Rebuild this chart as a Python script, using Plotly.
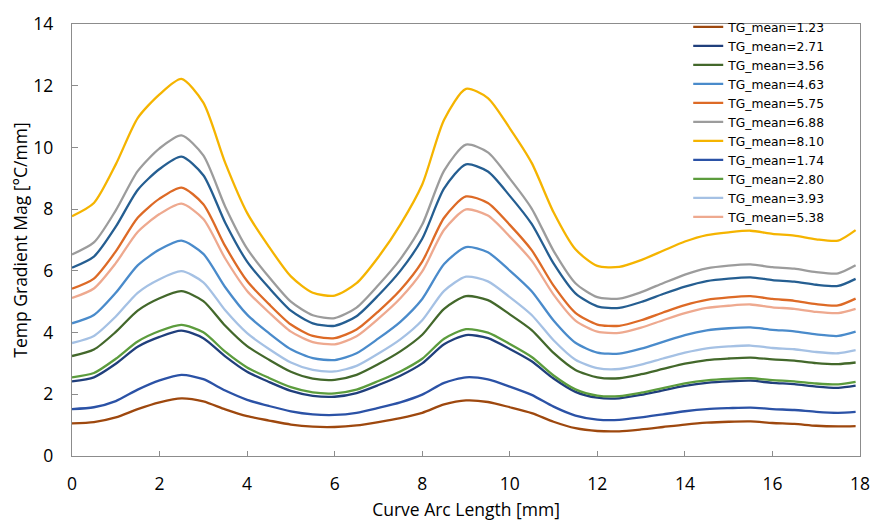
import plotly.graph_objects as go

# Arc-length positions along the curve [mm]
arc_mm = [0, 0.5, 1, 1.5, 2, 2.5, 3, 3.5, 4, 4.5, 5, 5.5, 6, 6.5, 7, 7.5, 8, 8.5,
          9, 9.5, 10, 10.5, 11, 11.5, 12, 12.5, 13, 13.5, 14, 14.5, 15, 15.5,
          16, 16.5, 17, 17.5, 17.9]

# Temperature gradient magnitude [°C/mm] for each case
tg_1_23 = [1.06, 1.10, 1.25, 1.52, 1.74, 1.87, 1.77, 1.51, 1.29, 1.15, 1.02, 0.95,
           0.94, 0.99, 1.10, 1.23, 1.40, 1.67, 1.80, 1.75, 1.58, 1.39, 1.11, 0.90,
           0.81, 0.80, 0.86, 0.94, 1.02, 1.08, 1.11, 1.12, 1.07, 1.04, 0.98, 0.96, 0.97]
tg_2_71 = [2.42, 2.55, 2.99, 3.54, 3.86, 4.06, 3.82, 3.23, 2.73, 2.40, 2.11, 1.95,
           1.92, 2.04, 2.30, 2.60, 3.00, 3.62, 3.92, 3.82, 3.47, 3.07, 2.51, 2.08,
           1.89, 1.87, 1.98, 2.13, 2.27, 2.37, 2.42, 2.44, 2.37, 2.33, 2.25, 2.21, 2.28]
tg_3_56 = [3.24, 3.45, 4.02, 4.71, 5.11, 5.34, 5.02, 4.22, 3.56, 3.12, 2.73, 2.51,
           2.47, 2.63, 2.98, 3.39, 3.93, 4.77, 5.18, 5.05, 4.59, 4.08, 3.34, 2.79,
           2.55, 2.52, 2.65, 2.82, 2.99, 3.11, 3.16, 3.19, 3.13, 3.09, 3.01, 2.98, 3.03]
tg_4_63 = [4.30, 4.57, 5.29, 6.18, 6.69, 6.98, 6.55, 5.47, 4.58, 3.98, 3.46, 3.17,
           3.11, 3.33, 3.81, 4.35, 5.09, 6.22, 6.77, 6.60, 6.01, 5.34, 4.39, 3.67,
           3.35, 3.32, 3.48, 3.70, 3.92, 4.07, 4.14, 4.17, 4.09, 4.04, 3.94, 3.89, 4.03]
tg_5_75 = [5.42, 5.75, 6.63, 7.72, 8.34, 8.70, 8.16, 6.80, 5.67, 4.92, 4.26, 3.89,
           3.82, 4.10, 4.69, 5.38, 6.30, 7.72, 8.41, 8.20, 7.49, 6.67, 5.52, 4.64,
           4.26, 4.22, 4.40, 4.65, 4.89, 5.06, 5.14, 5.18, 5.09, 5.03, 4.92, 4.88, 5.10]
tg_6_88 = [6.53, 6.92, 7.96, 9.23, 9.97, 10.39, 9.74, 8.08, 6.72, 5.80, 5.00, 4.56,
           4.47, 4.81, 5.54, 6.38, 7.50, 9.25, 10.09, 9.84, 8.99, 8.02, 6.65, 5.60,
           5.15, 5.10, 5.31, 5.60, 5.88, 6.08, 6.17, 6.21, 6.12, 6.07, 5.96, 5.92, 6.18]
tg_8_10 = [7.77, 8.20, 9.45, 10.95, 11.72, 12.22, 11.45, 9.50, 7.88, 6.78, 5.82, 5.29,
           5.20, 5.60, 6.45, 7.50, 8.80, 10.90, 11.90, 11.60, 10.62, 9.50, 7.90, 6.70,
           6.16, 6.13, 6.35, 6.65, 6.95, 7.16, 7.25, 7.30, 7.20, 7.14, 7.02, 6.98, 7.32]
tg_1_74 = [1.52, 1.58, 1.78, 2.15, 2.45, 2.63, 2.49, 2.12, 1.82, 1.62, 1.45, 1.35,
           1.33, 1.40, 1.56, 1.74, 1.99, 2.37, 2.55, 2.48, 2.25, 1.98, 1.60, 1.31,
           1.18, 1.17, 1.25, 1.35, 1.45, 1.52, 1.55, 1.57, 1.52, 1.49, 1.43, 1.40, 1.43]
tg_2_80 = [2.55, 2.69, 3.15, 3.71, 4.05, 4.25, 4.01, 3.38, 2.87, 2.53, 2.23, 2.06,
           2.03, 2.15, 2.43, 2.74, 3.15, 3.80, 4.11, 4.00, 3.63, 3.21, 2.61, 2.16,
           1.96, 1.94, 2.05, 2.20, 2.35, 2.45, 2.50, 2.52, 2.46, 2.42, 2.35, 2.32, 2.40]
tg_3_93 = [3.66, 3.89, 4.52, 5.29, 5.73, 5.99, 5.63, 4.72, 3.98, 3.47, 3.03, 2.79,
           2.74, 2.92, 3.32, 3.78, 4.40, 5.35, 5.81, 5.66, 5.15, 4.57, 3.75, 3.12,
           2.85, 2.82, 2.96, 3.16, 3.35, 3.49, 3.55, 3.58, 3.50, 3.46, 3.37, 3.33, 3.43]
tg_5_38 = [5.12, 5.43, 6.25, 7.26, 7.84, 8.18, 7.68, 6.40, 5.35, 4.65, 4.03, 3.69,
           3.62, 3.88, 4.45, 5.11, 5.98, 7.33, 7.99, 7.79, 7.11, 6.33, 5.23, 4.39,
           4.03, 3.99, 4.16, 4.40, 4.63, 4.80, 4.87, 4.91, 4.82, 4.77, 4.67, 4.63, 4.77]
# Additional case plotted without a legend entry
tg_extra = [6.10, 6.46, 7.43, 8.62, 9.30, 9.70, 9.10, 7.56, 6.30, 5.45, 4.71, 4.30,
            4.22, 4.53, 5.21, 6.00, 7.04, 8.67, 9.45, 9.22, 8.43, 7.52, 6.24, 5.27,
            4.85, 4.80, 4.99, 5.25, 5.49, 5.67, 5.75, 5.79, 5.70, 5.65, 5.55, 5.51, 5.74]

series = [
    ("TG_mean=1.23", tg_1_23, "#9E480E", True),
    ("TG_mean=2.71", tg_2_71, "#203F7C", True),
    ("TG_mean=3.56", tg_3_56, "#43682B", True),
    ("TG_mean=4.63", tg_4_63, "#4A8BCB", True),
    ("TG_mean=5.75", tg_5_75, "#DD6A26", True),
    ("TG_mean=6.88", tg_6_88, "#9C9C9C", True),
    ("TG_mean=8.10", tg_8_10, "#F5B400", True),
    ("TG_mean=1.74", tg_1_74, "#2B52A6", True),
    ("TG_mean=2.80", tg_2_80, "#5C9C3D", True),
    ("TG_mean=3.93", tg_3_93, "#A5C1E4", True),
    ("TG_mean=5.38", tg_5_38, "#EEA98F", True),
    ("TG_mean", tg_extra, "#255E91", False),
]

FONT = "Open Sans"
LEGEND_FONT = "DejaVu Sans"
AXIS_COLOR = "#8C8C8C"
LABEL_SIZE = 17.5

fig = go.Figure()
for name, values, color, in_legend in series:
    fig.add_trace(go.Scatter(
        x=arc_mm, y=values, name=name, mode="lines",
        line=dict(color=color, width=2.3, shape="spline", smoothing=0.7),
        showlegend=in_legend,
    ))

fig.update_layout(
    width=874, height=522,
    margin=dict(l=72, r=14, t=16, b=66),
    paper_bgcolor="white", plot_bgcolor="white",
    font=dict(family=FONT, size=LABEL_SIZE, color="#000000"),
    legend=dict(
        x=0.782, y=1.027, xanchor="left", yanchor="top",
        bgcolor="rgba(255,255,255,0)", borderwidth=0,
        font=dict(family=LEGEND_FONT, size=12.3, color="#000000"),
        tracegroupgap=0, itemwidth=30,
    ),
    xaxis=dict(
        range=[0, 18], dtick=2, tick0=0, automargin=False,
        showgrid=False, zeroline=False,
        showline=True, linecolor=AXIS_COLOR, linewidth=1.3, mirror=True,
        ticks="inside", ticklen=5, tickcolor=AXIS_COLOR,
        tickfont=dict(family=FONT, size=LABEL_SIZE),
        ticklabelstandoff=12,
        title=dict(text="Curve Arc Length [mm]", font=dict(family=FONT, size=LABEL_SIZE), standoff=9),
    ),
    yaxis=dict(
        range=[0, 14], dtick=2, tick0=0, automargin=False,
        showgrid=False, zeroline=False,
        showline=True, linecolor=AXIS_COLOR, linewidth=1.3, mirror=True,
        ticks="inside", ticklen=6, tickcolor=AXIS_COLOR,
        tickfont=dict(family=FONT, size=LABEL_SIZE),
        ticklabelstandoff=14,
        title=dict(text="Temp Gradient Mag [°C/mm]", font=dict(family=FONT, size=LABEL_SIZE), standoff=1),
    ),
)

fig.write_html("out.html")
